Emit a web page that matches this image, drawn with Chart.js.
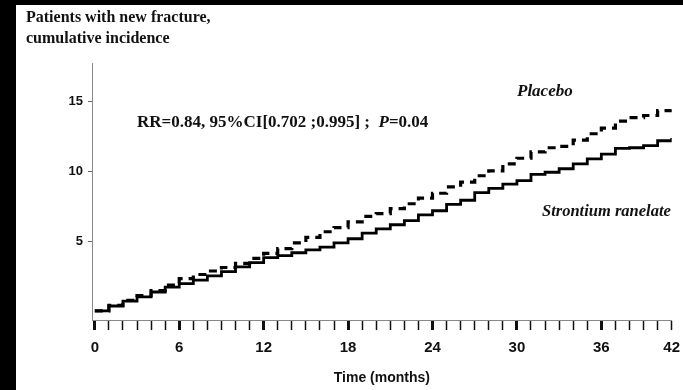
<!DOCTYPE html>
<html>
<head>
<meta charset="utf-8">
<script src="https://cdn.jsdelivr.net/npm/chart.js@4.4.1/dist/chart.umd.min.js"></script>
<style>
html,body{margin:0;padding:0;background:#000;}
#wrap{position:absolute;left:0;top:0;width:683px;height:390px;}
</style>
</head>
<body>
<div id="wrap"><canvas id="c" width="683" height="390"></canvas></div>
<script>
// ---- data ----
const months = [0,1,2,3,4,5,6,7,8,9,10,11,12,13,14,15,16,17,18,19,20,21,22,23,24,25,26,27,28,29,30,31,32,33,34,35,36,37,38,39,40,41];
const strontium = [0.05,0.4,0.75,1.05,1.4,1.75,2.0,2.25,2.55,2.85,3.2,3.5,3.85,4.0,4.2,4.4,4.6,4.9,5.2,5.6,5.9,6.2,6.5,6.9,7.2,7.65,7.95,8.5,8.8,9.1,9.35,9.8,9.95,10.2,10.55,10.9,11.25,11.65,11.7,11.85,12.2,12.4];
const placebo = [0.05,0.45,0.8,1.15,1.5,1.9,2.35,2.65,2.9,3.15,3.45,3.8,4.15,4.5,4.9,5.3,5.7,6.0,6.4,6.8,7.0,7.35,7.7,8.1,8.45,8.9,9.25,9.7,10.05,10.55,10.95,11.4,11.7,11.8,12.25,12.7,13.1,13.6,13.85,14.0,14.35,14.57];
const xTickMonths = [0,6,12,18,24,30,36,41];
const xTickLabels = ['0','6','12','18','24','30','36','42'];
const yTicks = [5,10,15];
const titleLines = ['Patients with new fracture,','cumulative incidence'];
const statsText = 'RR=0.84, 95%CI[0.702 ;0.995] ;  ';
const statsP = 'P';
const statsPValue = '=0.04';
const seriesNames = ['Placebo','Strontium ranelate'];
const xTitle = 'Time (months)';

const majorMonths = [0,6,12,18,24,30,36];

const background = {
  id:'background',
  beforeDraw(chart){
    const ctx = chart.ctx;
    ctx.save();
    ctx.fillStyle = '#000';
    ctx.fillRect(0,0,chart.width,chart.height);
    ctx.fillStyle = '#fff';
    ctx.fillRect(16,5,chart.width-16,chart.height-5);
    ctx.restore();
  }
};

const annotations = {
  id:'annotations',
  afterDraw(chart){
    const ctx = chart.ctx;
    ctx.save();
    ctx.fillStyle = '#111';
    ctx.textBaseline = 'alphabetic';
    ctx.textAlign = 'left';
    ctx.font = 'bold 16px "Liberation Serif", "Times New Roman", serif';
    ctx.fillText(titleLines[0], 26, 22);
    ctx.fillText(titleLines[1], 26, 43);

    ctx.font = 'bold 17px "Liberation Serif", "Times New Roman", serif';
    let x = 137;
    const yb = 127;
    ctx.fillText(statsText, x, yb);
    x += ctx.measureText(statsText).width;
    ctx.font = 'italic bold 17px "Liberation Serif", "Times New Roman", serif';
    ctx.fillText(statsP, x, yb);
    x += ctx.measureText(statsP).width;
    ctx.font = 'bold 17px "Liberation Serif", "Times New Roman", serif';
    ctx.fillText(statsPValue, x, yb);

    ctx.font = 'italic bold 17px "Liberation Serif", "Times New Roman", serif';
    ctx.textBaseline = 'middle';
    ctx.fillText(seriesNames[0], 517, 92);
    ctx.font = 'italic bold 16.5px "Liberation Serif", "Times New Roman", serif';
    ctx.fillText(seriesNames[1], 542, 212);
    ctx.restore();
  }
};

const toPoints = (arr) => months.map((m,i)=>({x:m,y:arr[i]}));

new Chart(document.getElementById('c'), {
  type:'line',
  data:{
    datasets:[
      {label:seriesNames[0], data:toPoints(placebo), borderColor:'#000', borderWidth:3.2, borderDash:[8,6], pointRadius:0, stepped:true, fill:false},
      {label:seriesNames[1], data:toPoints(strontium), borderColor:'#000', borderWidth:2.8, pointRadius:0, stepped:true, fill:false}
    ]
  },
  options:{
    responsive:false,
    animation:false,
    events:[],
    layout:{padding:{left:0,top:63,right:11.3,bottom:0}},
    plugins:{legend:{display:false}, tooltip:{enabled:false}, title:{display:false}},
    scales:{
      x:{
        type:'linear', min:-0.2, max:41,
        afterBuildTicks(s){ s.ticks = months.map(v=>({value:v})); },
        afterFit(s){ s.height = 70; s.paddingLeft = 0; s.paddingRight = 0; },
        border:{display:true, color:'#888', width:1},
        grid:{display:true, drawOnChartArea:false, drawTicks:true, tickLength:10,
              tickColor:'#111',
              tickWidth:(c)=> majorMonths.includes(c.tick && c.tick.value) ? 3 : 1.5},
        ticks:{
          autoSkip:false, maxRotation:0, padding:9, color:'#111',
          font:{family:'"Liberation Sans", Arial, sans-serif', size:15, weight:'bold'},
          callback:(v)=>{ const i = xTickMonths.indexOf(v); return i>=0 ? xTickLabels[i] : ''; }
        },
        title:{display:true, text:xTitle, color:'#111', padding:{top:0,bottom:3},
               font:{family:'"Liberation Sans", Arial, sans-serif', size:14, weight:'bold'}}
      },
      y:{
        type:'linear', min:-0.6, max:17.75,
        afterBuildTicks(s){ s.ticks = yTicks.map(v=>({value:v})); },
        afterFit(s){ s.width = 92; s.paddingTop = 0; s.paddingBottom = 0; },
        border:{display:true, color:'#888', width:1},
        grid:{display:true, drawOnChartArea:false, drawTicks:true, tickLength:4, tickColor:'#666', tickWidth:1},
        ticks:{
          padding:5, color:'#111',
          font:{family:'"Liberation Sans", Arial, sans-serif', size:13, weight:'bold'}
        }
      }
    }
  },
  plugins:[background, annotations]
});
</script>
</body>
</html>
